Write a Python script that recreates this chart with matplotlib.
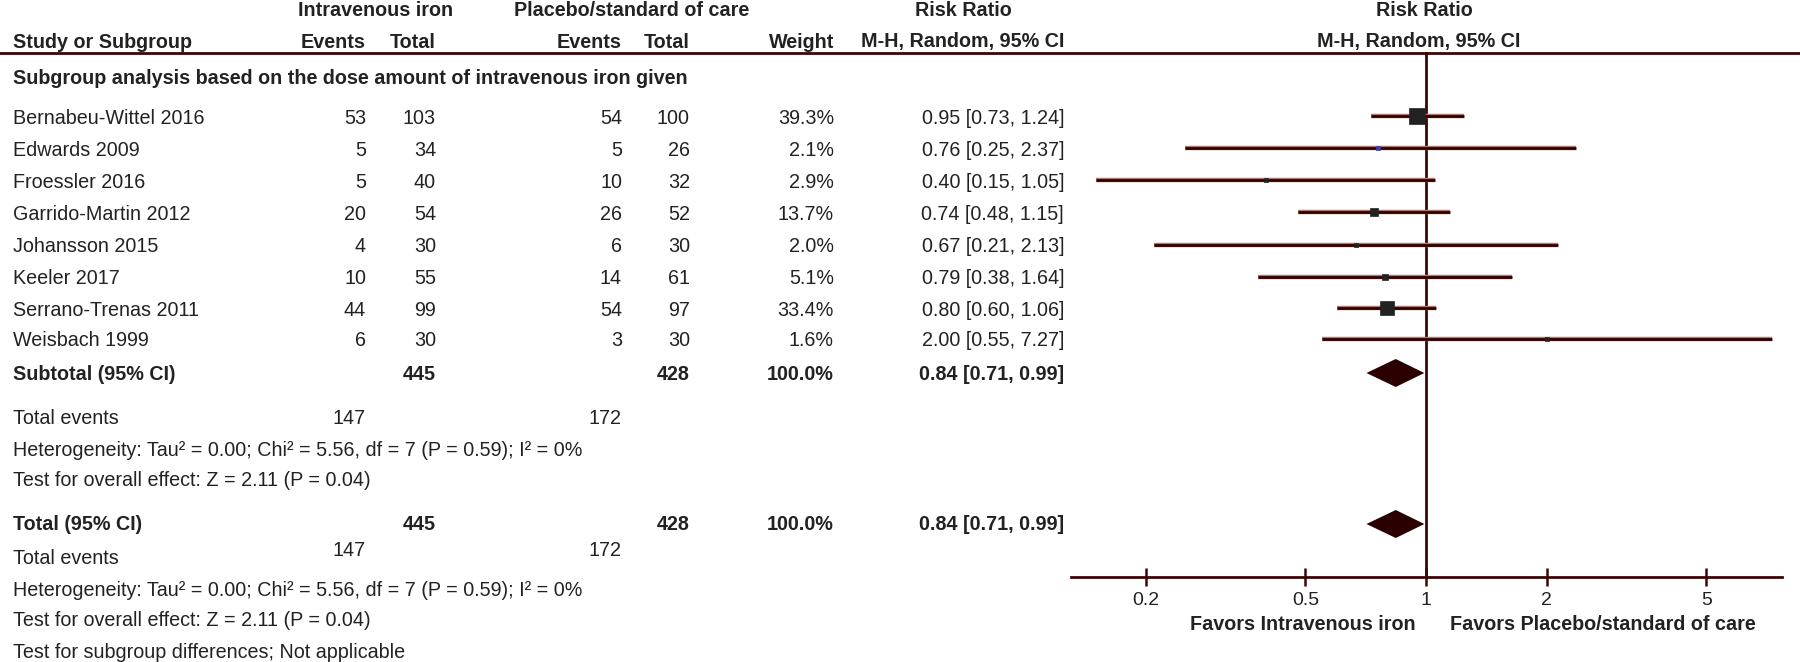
import matplotlib
matplotlib.use("Agg")
import matplotlib.pyplot as plt

# study data
studies = ["Bernabeu-Wittel 2016", "Edwards 2009", "Froessler 2016", "Garrido-Martin 2012",
           "Johansson 2015", "Keeler 2017", "Serrano-Trenas 2011", "Weisbach 1999"]
ev_iv = [53, 5, 5, 20, 4, 10, 44, 6]
tot_iv = [103, 34, 40, 54, 30, 55, 99, 30]
ev_pl = [54, 5, 10, 26, 6, 14, 54, 3]
tot_pl = [100, 26, 32, 52, 30, 61, 97, 30]
weights = [39.3, 2.1, 2.9, 13.7, 2.0, 5.1, 33.4, 1.6]
rr = [0.95, 0.76, 0.40, 0.74, 0.67, 0.79, 0.80, 2.00]
rr_lo = [0.73, 0.25, 0.15, 0.48, 0.21, 0.38, 0.60, 0.55]
rr_hi = [1.24, 2.37, 1.05, 1.15, 2.13, 1.64, 1.06, 7.27]

pooled = (0.84, 0.71, 0.99)
total_iv, total_pl = 445, 428
total_weight = 100.0
events_iv, events_pl = 147, 172
het_text = "Heterogeneity: Tau\u00b2 = 0.00; Chi\u00b2 = 5.56, df = 7 (P = 0.59); I\u00b2 = 0%"
effect_text = "Test for overall effect: Z = 2.11 (P = 0.04)"
tick_vals = [0.2, 0.5, 1, 2, 5]
tick_labels = ["0.2", "0.5", "1", "2", "5"]

FONT = "Liberation Sans"
TXT = "#222222"
MAROON = "#3a0606"
FS = 14.2

W, H = 1800, 662
fig = plt.figure(figsize=(W / 100, H / 100), dpi=100)
tax = fig.add_axes([0, 0, 1, 1])
tax.set_xlim(0, W)
tax.set_ylim(H, 0)
tax.axis("off")


def t(x, y, s, ha="left", bold=False):
    tax.text(x, y + 1, s, ha=ha, va="center", fontsize=FS, family=FONT,
             fontweight="bold" if bold else "normal", color=TXT)


# column positions (pixels)
X_LEFT = 13
X_EV1, X_TOT1 = 366, 436
X_EV2, X_TOT2 = 622, 690
X_W = 834
X_CI = 1064
X_CIH = 963
X_FOREST = 1424

# header
t(376, 9, "Intravenous iron", ha="center", bold=True)
t(632, 9, "Placebo/standard of care", ha="center", bold=True)
t(X_CIH, 9, "Risk Ratio", ha="center", bold=True)
t(X_FOREST, 9, "Risk Ratio", ha="center", bold=True)
t(X_LEFT, 41, "Study or Subgroup", bold=True)
t(X_EV1, 41, "Events", ha="right", bold=True)
t(X_TOT1, 41, "Total", ha="right", bold=True)
t(X_EV2, 41, "Events", ha="right", bold=True)
t(X_TOT2, 41, "Total", ha="right", bold=True)
t(X_W, 41, "Weight", ha="right", bold=True)
t(X_CI, 41, "M-H, Random, 95% CI", ha="right", bold=True)
t(1419, 41, "M-H, Random, 95% CI", ha="center", bold=True)
tax.axhline(53, color=MAROON, lw=2)

t(X_LEFT, 78, "Subgroup analysis based on the dose amount of intravenous iron given", bold=True)

row_y = [117, 149, 181, 213, 246, 278, 309, 340]
for i, y in enumerate(row_y):
    t(X_LEFT, y, studies[i])
    t(X_EV1, y, str(ev_iv[i]), ha="right")
    t(X_TOT1, y, str(tot_iv[i]), ha="right")
    t(X_EV2, y, str(ev_pl[i]), ha="right")
    t(X_TOT2, y, str(tot_pl[i]), ha="right")
    t(X_W, y, f"{weights[i]:.1f}%", ha="right")
    t(X_CI, y, f"{rr[i]:.2f} [{rr_lo[i]:.2f}, {rr_hi[i]:.2f}]", ha="right")

pooled_txt = f"{pooled[0]:.2f} [{pooled[1]:.2f}, {pooled[2]:.2f}]"
total_w = f"{total_weight:.1f}%"

# subtotal block
y_sub = 373
t(X_LEFT, y_sub, "Subtotal (95% CI)", bold=True)
t(X_TOT1, y_sub, str(total_iv), ha="right", bold=True)
t(X_TOT2, y_sub, str(total_pl), ha="right", bold=True)
t(X_W, y_sub, total_w, ha="right", bold=True)
t(X_CI, y_sub, pooled_txt, ha="right", bold=True)
t(X_LEFT, 418, "Total events")
t(X_EV1, 417, str(events_iv), ha="right")
t(X_EV2, 417, str(events_pl), ha="right")
t(X_LEFT, 449, het_text)
t(X_LEFT, 480, effect_text)

# total block
y_tot = 523
t(X_LEFT, y_tot, "Total (95% CI)", bold=True)
t(X_TOT1, y_tot, str(total_iv), ha="right", bold=True)
t(X_TOT2, y_tot, str(total_pl), ha="right", bold=True)
t(X_W, y_tot, total_w, ha="right", bold=True)
t(X_CI, y_tot, pooled_txt, ha="right", bold=True)
t(X_LEFT, 557, "Total events")
t(X_EV1, 549, str(events_iv), ha="right")
t(X_EV2, 549, str(events_pl), ha="right")
t(X_LEFT, 589, het_text)
t(X_LEFT, 620, effect_text)
t(X_LEFT, 651, "Test for subgroup differences; Not applicable")

# forest plot axes, log scale, shares pixel rows with the table
L, R = 1070.7, 1781.7
fax = fig.add_axes([L / W, 0, (R - L) / W, 1])
fax.set_xscale("log")
fax.set_xlim(0.13, 7.7)
fax.set_ylim(H, 0)
fax.patch.set_alpha(0)
for s in ["top", "left", "right"]:
    fax.spines[s].set_visible(False)
fax.spines["bottom"].set_position(("data", 577))
fax.spines["bottom"].set_color(MAROON)
fax.spines["bottom"].set_linewidth(2)
fax.set_yticks([])
fax.set_xticks(tick_vals)
fax.set_xticklabels(tick_labels)
fax.xaxis.set_minor_locator(matplotlib.ticker.NullLocator())
fax.tick_params(axis="x", direction="inout", length=13, width=1.8, color=MAROON,
                pad=4, labelsize=14, labelcolor=TXT)
for lab in fax.get_xticklabels():
    lab.set_family(FONT)

# null line
fax.plot([1, 1], [53, 577], color=MAROON, lw=2, zorder=2)

for i, y in enumerate(row_y):
    y = y - 1
    fax.plot([rr_lo[i], rr_hi[i]], [y, y], color="#b07a70", lw=3.2, solid_capstyle="butt", zorder=3)
    fax.plot([rr_lo[i], rr_hi[i]], [y, y], color="#2e0000", lw=2.0, solid_capstyle="butt", zorder=4)
    side = 2.4 * weights[i] ** 0.5
    col = "#3c3ca8" if studies[i] == "Edwards 2009" else "#222222"
    fax.plot(rr[i], y, marker="s", ms=side * 0.72, color=col, mec=col, mew=0.5, zorder=5)

for y in [373, 524]:
    fax.fill([pooled[1], pooled[0], pooled[2], pooled[0]], [y, y - 14, y, y + 14],
             color="#2a0000", lw=0, zorder=5)

fax.text(0.944, 625, "Favors Intravenous iron", ha="right", va="center",
         fontsize=14.2, fontweight="bold", family=FONT, color=TXT)
fax.text(1.148, 625, "Favors Placebo/standard of care", ha="left", va="center",
         fontsize=14.2, fontweight="bold", family=FONT, color=TXT)

fig.savefig("out.png", dpi=100)
